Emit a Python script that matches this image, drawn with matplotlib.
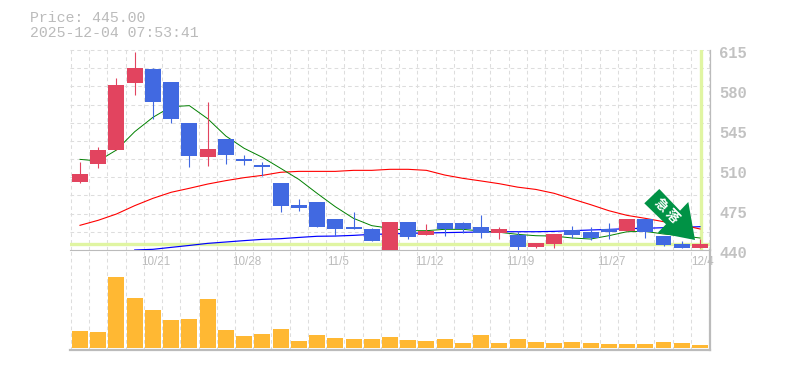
import matplotlib
matplotlib.use('Agg')
import matplotlib.pyplot as plt
from matplotlib.patches import Polygon
import numpy as np

nan = float('nan')

# candles, oldest first
opens = [499.5, 515.2, 527.5, 586.1, 598.4, 587.0, 551.1, 521.4, 537.1, 519.6, 514.4, 498.6,
         479.4, 482.0, 467.0, 460.1, 458.4, 439.4, 464.5, 453.1, 463.6, 463.6, 460.1, 454.9,
         453.1, 442.6, 445.2, 457.5, 455.7, 458.4, 456.6, 467.1, 452.2, 445.2, 441.7]
closes = [506.5, 527.5, 584.4, 599.2, 569.5, 554.6, 522.2, 528.4, 523.1, 517.9, 512.6, 478.5,
          477.0, 460.1, 458.4, 458.4, 447.9, 464.5, 451.4, 456.6, 458.4, 458.4, 454.9, 458.4,
          442.6, 446.1, 454.0, 453.1, 450.5, 455.7, 467.1, 455.7, 444.4, 441.7, 445.2]
highs = [517.0, 530.1, 590.5, 613.2, 599.2, 587.0, 551.1, 569.5, 537.1, 523.1, 517.0, 498.6,
         484.6, 482.0, 467.0, 473.2, 458.9, 464.5, 464.5, 462.7, 463.6, 464.5, 470.6, 460.1,
         456.6, 446.1, 454.0, 461.0, 460.1, 463.6, 467.1, 467.1, 452.2, 448.0, 449.6]
lows = [498.5, 511.7, 527.5, 575.6, 554.3, 551.1, 512.6, 513.5, 515.2, 514.4, 504.7, 473.2,
        474.1, 460.1, 452.2, 458.4, 447.9, 439.4, 449.6, 453.1, 452.2, 455.2, 450.5, 449.6,
        439.1, 441.7, 441.7, 450.5, 448.7, 449.6, 456.6, 450.5, 443.5, 441.7, 441.7]

ma_short = [519.3, 517.9, 527.5, 543.5, 556.1, 565.4, 566.3, 554.9, 539.7, 529.0, 521.1, 511.5,
            501.8, 489.6, 477.9, 467.7, 461.3, 459.0, 456.9, 456.9, 458.1, 458.1, 456.6, 455.5,
            453.7, 452.5, 452.2, 450.5, 449.6, 452.5, 456.0, 456.3, 454.0, 452.5, 450.5]
ma_mid = [461.6, 466.0, 471.5, 478.8, 485.2, 490.5, 494.0, 497.7, 500.7, 503.3, 505.3, 508.0,
          508.8, 508.8, 508.8, 509.7, 509.7, 510.6, 510.6, 509.7, 505.6, 502.7, 500.4, 498.0,
          495.0, 493.0, 489.6, 484.6, 479.7, 474.4, 470.3, 467.7, 464.8, 461.9, 458.4]
ma_long = [nan, nan, nan, 440.0, 440.6, 442.3, 444.0, 445.8, 447.0, 448.2, 449.3, 449.9,
           451.0, 452.0, 452.2, 452.8, 453.7, 454.0, 454.6, 454.9, 455.2, 455.5, 455.7, 456.0,
           456.0, 456.0, 456.3, 456.9, 457.5, 458.0, 458.7, 459.0, 459.5, 459.8, 460.4]

volumes = [17.3, 16.3, 71.3, 50.3, 38.3, 28.3, 29.3, 49.3, 18.3, 12.3, 14.3, 19.3,
           7.3, 13.3, 10.3, 9.3, 9.3, 11, 8, 7, 9, 5, 13, 5,
           9, 6, 5, 6, 5, 4, 4, 4, 6, 5, 3]

last_price = 445.0
price_ticks = [615, 580, 545, 510, 475, 440]
date_labels = ['10/21', '10/28', '11/5', '11/12', '11/19', '11/27', '12/4']
date_pos = [4, 9, 14, 19, 24, 29, 34]

W, H = 785, 370
GREY = '#bbbbbb'
GRID = '#dddddd'
RED = '#e2445f'
BLUE = '#4169e1'
ORANGE = '#ffb833'
LIME = '#e0f5a2'
dash = (0, (3.5, 3))

fig = plt.figure(figsize=(W / 100, H / 100), dpi=100)

def panel(x0, y0, x1, y1):
    return fig.add_axes([x0 / W, 1 - y1 / H, (x1 - x0) / W, (y1 - y0) / H])

ax = panel(70, 50, 710, 250)
ax2 = panel(70, 250, 710, 350)
xlim = (-0.548, 34.55)

x = np.arange(len(closes))

for a in (ax, ax2):
    a.set_xlim(*xlim)
    a.patch.set_alpha(0)
    for s in a.spines.values():
        s.set_visible(False)
    a.set_yticks([])
    a.set_xticks([])
    for g in np.arange(36) - 0.5:
        a.axvline(g, color=GRID, lw=0.75, ls=dash, zorder=1)
    a.spines['right'].set_visible(True)
    a.spines['right'].set_color(GREY)

ax.set_ylim(440, 615)
for g in np.linspace(440, 615, 12)[1:]:
    ax.axhline(g, color=GRID, lw=0.75, ls=dash, zorder=1, clip_on=False)
ax.spines['bottom'].set_visible(True)
ax.spines['bottom'].set_color(GREY)
ax.spines['right'].set_linewidth(0.9)

# last price crosshair
ax.axhline(last_price, color=LIME, lw=2.4, zorder=2)
ax.axvline(x[-1] + 0.03, color=LIME, lw=2.4, zorder=2)

ax.plot(x, ma_long, color='#0000ff', lw=0.85, zorder=3)
ax.plot(x, ma_mid, color='#ff0000', lw=0.8, zorder=3)
ax.plot(x, ma_short, color='#008000', lw=0.7, zorder=3)

for i in x:
    c = RED if closes[i] >= opens[i] else BLUE
    ax.vlines(i, lows[i], highs[i], color=c, lw=0.8, zorder=4)
    ax.bar(i, abs(closes[i] - opens[i]), bottom=min(opens[i], closes[i]), width=0.877,
           color=c, lw=0, zorder=5)

ax2.set_ylim(-1.7, 98.3)
ax2.bar(x, volumes, width=0.877, color=ORANGE, lw=0, zorder=3)
ax2.spines['bottom'].set_visible(True)
ax2.spines['bottom'].set_color(GREY)
ax2.spines['bottom'].set_linewidth(1.6)
ax2.spines['right'].set_linewidth(1.6)

# right hand price labels sit a little below their level
for p in price_ticks:
    ax.annotate(str(p), (1, p), xycoords=('axes fraction', 'data'), xytext=(9, -3),
                textcoords=('offset pixels'), color='#c2c2c2', fontsize=11.2, fontweight='bold',
                family='Liberation Mono', va='center', ha='left', annotation_clip=False)

for lab, p in zip(date_labels, date_pos):
    ax.annotate(lab, (p, 440), xycoords='data', xytext=(3, -12), textcoords='offset pixels',
                color=GREY, fontsize=8.4, family='Liberation Sans', ha='center', va='center',
                annotation_clip=False, zorder=6)

fig.text(30 / W, 1 - 18 / H, 'Price: 445.00', color=GREY, fontsize=10.7, family='Liberation Mono',
         va='center', ha='left')
fig.text(30 / W, 1 - 33 / H, '2025-12-04 07:53:41', color=GREY, fontsize=10.7,
         family='Liberation Mono', va='center', ha='left')

# green badge, in pixel coordinates
badge = [(659.3, 189), (680, 210.7), (688.3, 202), (695, 240), (657.7, 232.7), (666, 224.3), (644.3, 203.3)]
fig.add_artist(Polygon([(px / W, 1 - py / H) for px, py in badge], closed=True,
                       transform=fig.transFigure, color='#009245', lw=0, zorder=10))
for ch, (px, py) in zip('急落', [(660.7, 205), (672.3, 216)]):
    fig.text(px / W, 1 - py / H, ch, color='white', fontsize=9.5, rotation=-45,
             family=['Noto Sans CJK JP', 'DejaVu Sans'], fontweight='bold',
             ha='center', va='center', rotation_mode='anchor', zorder=11)

fig.savefig('out.png', dpi=100)
